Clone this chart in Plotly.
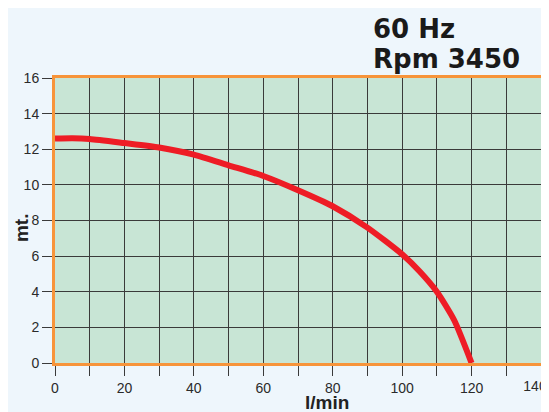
import plotly.graph_objects as go

flow = [0, 5, 10, 20, 30, 40, 50, 60, 70, 80, 90, 100, 105, 110, 115, 120]
head = [12.6, 12.62, 12.58, 12.35, 12.1, 11.7, 11.1, 10.5, 9.7, 8.8, 7.6, 6.1, 5.15, 4.0, 2.4, 0.0]
x_ticks = [0, 20, 40, 60, 80, 100, 120]
x_last_tick = [140]
x_minor = [10, 30, 50, 70, 90, 110, 130]
y_ticks = [0, 2, 4, 6, 8, 10, 12, 14, 16]

GRID = "#3a3a3a"
TICKFONT = dict(size=14, color="#2a2a2a")

fig = go.Figure()
fig.add_trace(go.Scatter(x=flow, y=head, mode="lines", xaxis="x", yaxis="y",
                         line=dict(color="#EE1C25", width=6, shape="spline", smoothing=0.6),
                         hoverinfo="skip", cliponaxis=True))
# helper trace on the overlay axis that carries the last tick label
fig.add_trace(go.Scatter(x=[None], y=[None], xaxis="x2", yaxis="y", mode="lines",
                         showlegend=False, hoverinfo="skip"))

# The page body adds an 8px offset, so the figure is 8px smaller than the window.
fig.update_layout(
    width=541, height=404,
    margin=dict(l=47, r=8, t=70, b=49),
    paper_bgcolor="#EEF6FC",
    plot_bgcolor="#C8E5D5",
    showlegend=False,
    font=dict(family="Liberation Sans, Arial, sans-serif", color="#222222"),
    xaxis=dict(
        range=[0, 140], tickmode="array", tickvals=x_ticks + x_last_tick,
        ticktext=[str(v) for v in x_ticks] + [""],
        showgrid=True, gridcolor=GRID, gridwidth=1,
        minor=dict(tickvals=x_minor, showgrid=True, gridcolor=GRID, gridwidth=1,
                   ticks="outside", ticklen=10, tickcolor=GRID),
        ticks="outside", ticklen=10, tickcolor=GRID,
        showline=True, linecolor="#F7943A", linewidth=3, mirror=True,
        tickfont=TICKFONT, automargin=False, zeroline=False,
    ),
    xaxis2=dict(
        overlaying="x", side="bottom", anchor="y", range=[0, 140],
        tickmode="array", tickvals=x_last_tick, ticktext=[str(v) for v in x_last_tick],
        ticks="outside", ticklen=10, tickcolor="rgba(0,0,0,0)",
        showgrid=False, showline=False, zeroline=False,
        tickfont=TICKFONT, ticklabelshift=-6,
        ticklabeloverflow="allow", automargin=False,
    ),
    yaxis=dict(
        range=[0, 16], tickmode="array", tickvals=y_ticks,
        showgrid=True, gridcolor=GRID, gridwidth=1,
        ticks="outside", ticklen=10, tickcolor=GRID,
        showline=True, linecolor="#F7943A", linewidth=3, mirror=True,
        tickfont=TICKFONT, automargin=False, zeroline=False,
    ),
    annotations=[
        dict(text="<b>60 Hz</b>", x=0.650, y=1.173, xref="paper", yref="paper", xanchor="left", yanchor="middle",
             showarrow=False, font=dict(family="DejaVu Sans", size=26, color="#1a1a1a")),
        dict(text="<b>Rpm 3450</b>", x=0.650, y=1.066, xref="paper", yref="paper", xanchor="left", yanchor="middle",
             showarrow=False, font=dict(family="DejaVu Sans", size=26, color="#1a1a1a")),
        dict(text="<b>l/min</b>", x=0.560, y=-0.138, xref="paper", yref="paper", xanchor="center", yanchor="middle",
             showarrow=False, font=dict(size=19, color="#222222")),
        dict(text="<b>mt.</b>", x=-0.070, y=0.477, xref="paper", yref="paper", xanchor="center", yanchor="middle",
             textangle=-90, showarrow=False, font=dict(size=19, color="#222222")),
    ],
)
fig.write_html("out.html")
